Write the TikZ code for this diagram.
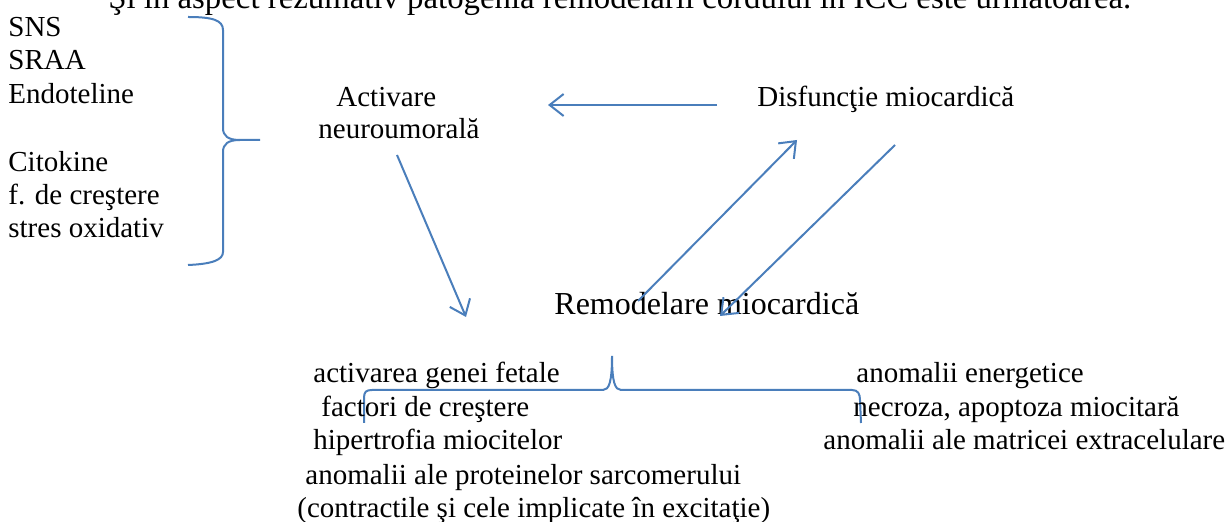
\documentclass[tikz,border=0pt]{standalone}
\usepackage{fontspec}
\setmainfont{Liberation Serif}
\usetikzlibrary{arrows.meta}
\definecolor{wblue}{RGB}{74,126,187}
\begin{document}
\begin{tikzpicture}[x=0.5pt,y=-0.5pt,
  txt/.style={anchor=base west, inner sep=0pt, font=\fontsize{14.5}{17}\selectfont},
  bigtxt/.style={anchor=base west, inner sep=0pt, font=\fontsize{16}{19}\selectfont},
  conn/.style={draw=wblue, line width=1pt, -{Straight Barb[length=7pt,width=11pt]}},
  bracepath/.style={draw=wblue, line width=1pt}]
\useasboundingbox (0,0) rectangle (1229,522);
\clip (0,0) rectangle (1229,522);
% clipped heading
\node[anchor=base west, inner sep=0pt, font=\fontsize{16.4}{19}\selectfont] (title) at (108,9) {Şi în aspect rezumativ patogenia remodelării cordului în ICC este următoarea.};
% left list
\node[txt] (sns) at (8,37) {SNS};
\node[txt] (sraa) at (8,70) {SRAA};
\node[txt] (endo) at (8,104) {Endoteline};
\node[txt] (cito) at (8,172) {Citokine};
\node[txt] (fcr) at (8,205) {f. de creştere};
\node[txt] (stres) at (8,238) {stres oxidativ};
% left brace
\draw[bracepath] (188,17) .. controls (212,17) and (223,20) .. (223,30) -- (223,128)
  .. controls (223,136) and (228,140) .. (240,140) -- (260,140);
\draw[bracepath] (240,140) .. controls (228,140) and (223,144) .. (223,152) -- (223,252)
  .. controls (223,260) and (212,264) .. (188,265);
% main nodes
\node[txt] (act1) at (336,107) {Activare};
\node[txt] (act2) at (318,139) {neuroumorală};
\node[txt] (disf) at (757,107) {Disfuncţie miocardică};
\node[bigtxt] (remod) at (554,315) {Remodelare miocardică};
% connector end points
\coordinate (a1s) at (397,155);
\coordinate (a1e) at (466,317);
\coordinate (a2s) at (717,105);
\coordinate (a2e) at (548,105);
\coordinate (a3s) at (638,301);
\coordinate (a3e) at (797,140);
\coordinate (a4s) at (895,145);
\coordinate (a4e) at (720,316);
\draw[conn] (a1s) -- (a1e);
\draw[conn] (a2s) -- (a2e);
\draw[conn] (a3s) -- (a3e);
\draw[conn] (a4s) -- (a4e);
% bottom brace
\draw[bracepath] (364,423) -- (364,398) .. controls (364,392) and (366,390) .. (372,390) -- (603,390)
  .. controls (609,390) and (612,382) .. (612,356)
  .. controls (612,382) and (615,390) .. (621,390) -- (852,390)
  .. controls (858,390) and (860,394) .. (860,400) -- (861,423);
% bottom left list
\node[txt] (b1) at (313,383) {activarea genei fetale};
\node[txt] (b2) at (321,417) {factori de creştere};
\node[txt] (b3) at (313,450) {hipertrofia miocitelor};
\node[txt] (b4) at (305,485) {anomalii ale proteinelor sarcomerului};
\node[txt] (b5) at (297,517) {(contractile şi cele implicate în excitaţie)};
% bottom right list
\node[txt] (c1) at (856,383) {anomalii energetice};
\node[txt] (c2) at (853,417) {necroza, apoptoza miocitară};
\node[txt] (c3) at (823,450) {anomalii ale matricei extracelulare};
\end{tikzpicture}
\end{document}
